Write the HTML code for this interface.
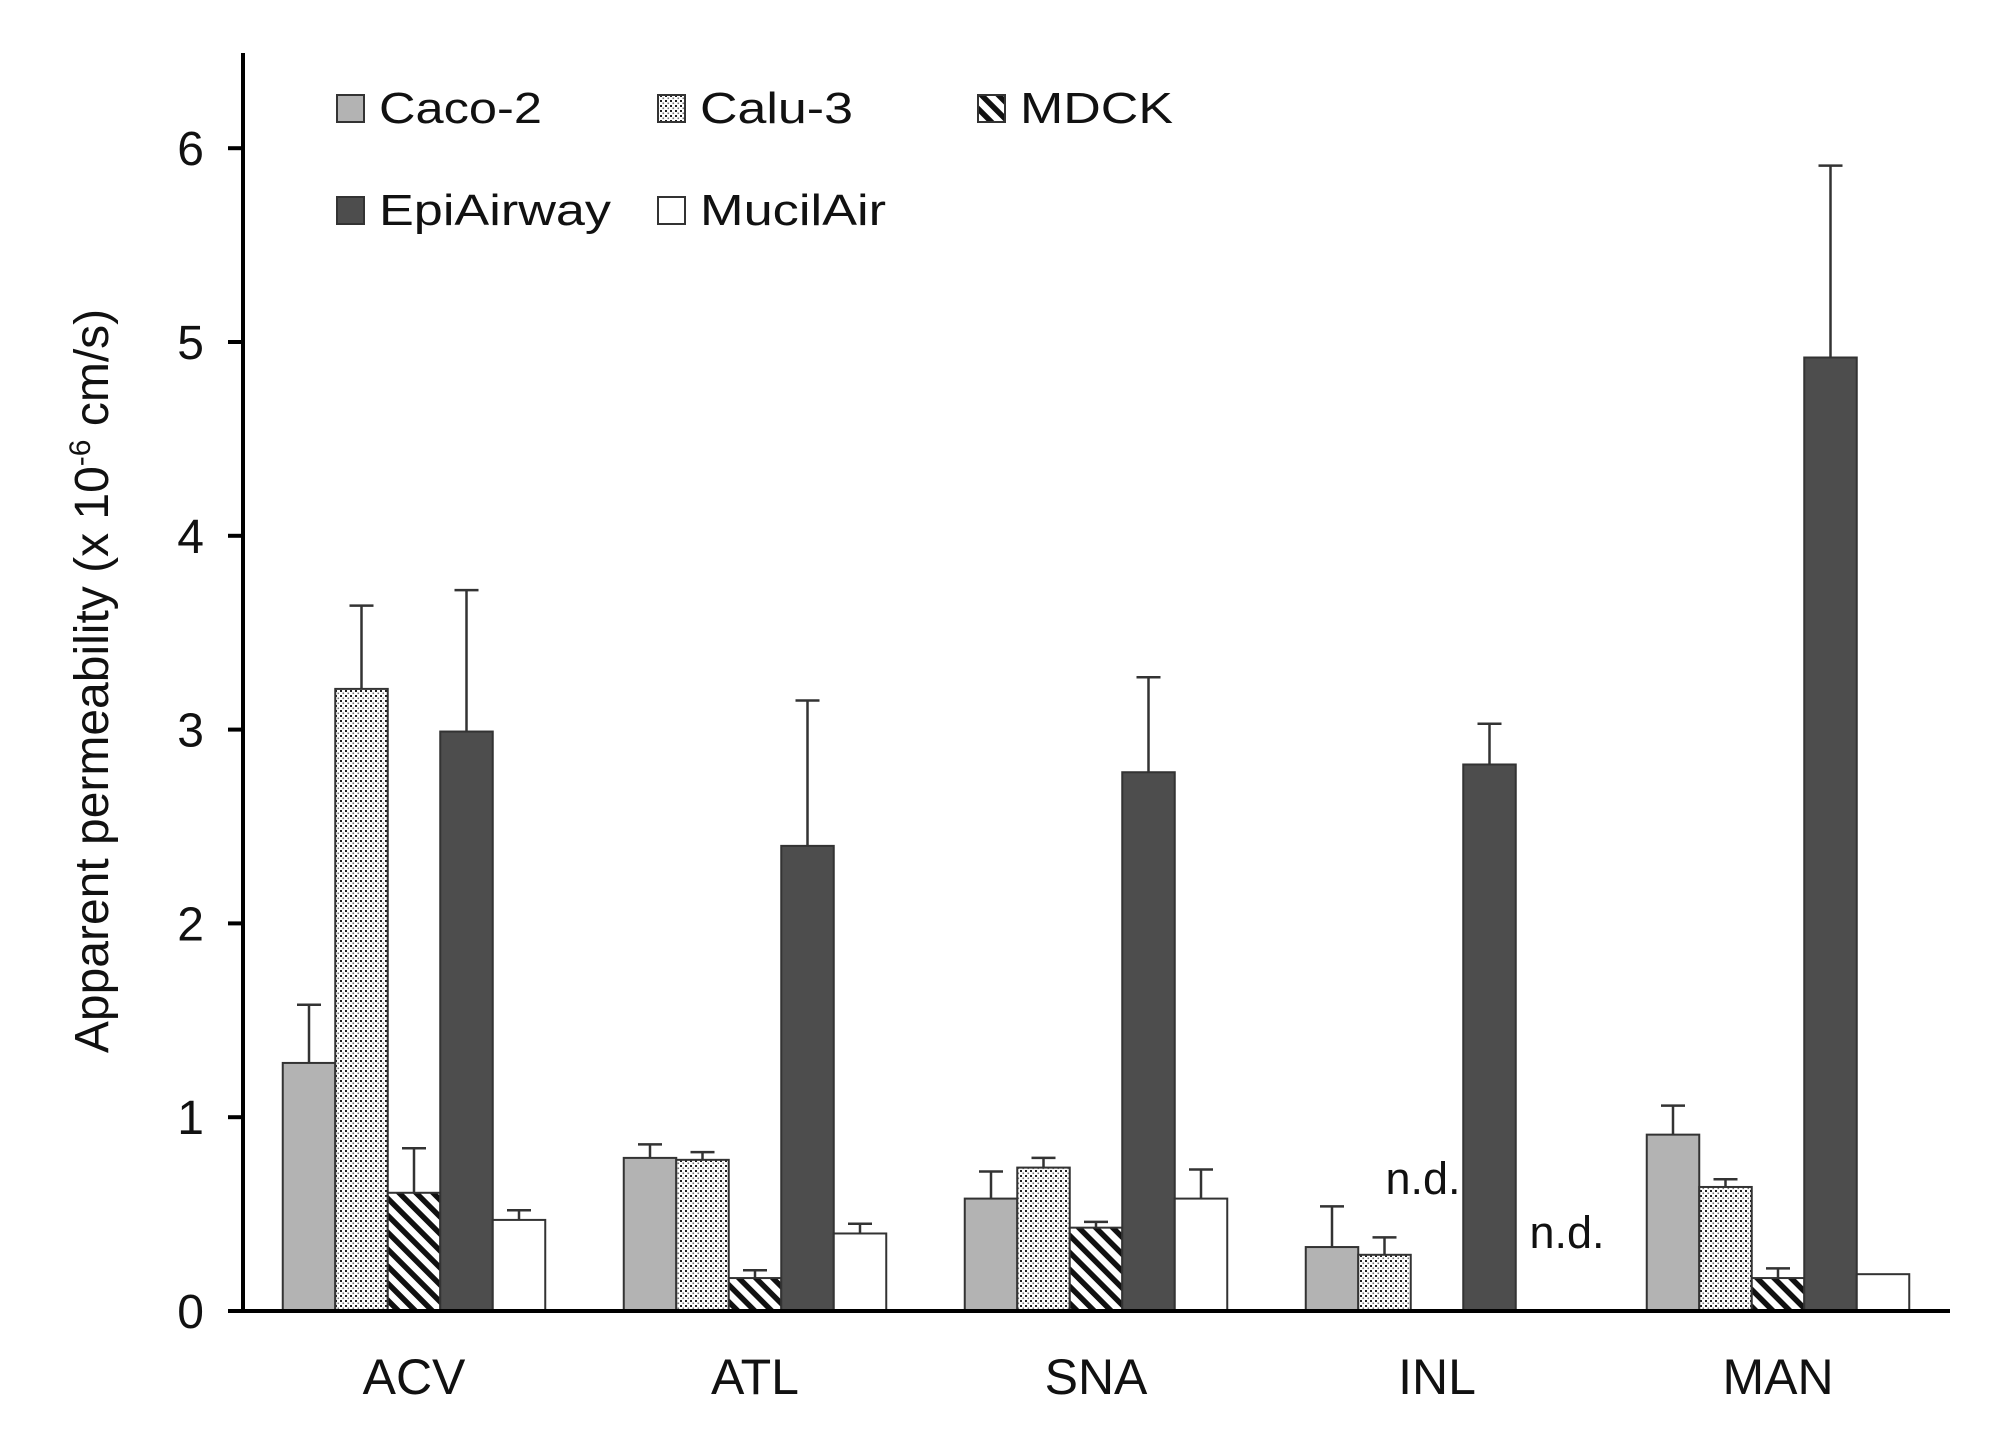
<!DOCTYPE html>
<html><head><meta charset="utf-8"><style>
html,body{margin:0;padding:0;background:#fff;}
svg{display:block;font-family:"Liberation Sans",Arial,sans-serif;}
</style></head><body>
<svg id="chart" width="1992" height="1437" viewBox="0 0 1992 1437" xmlns="http://www.w3.org/2000/svg">
<defs>
<pattern id="dots" width="5" height="5" patternUnits="userSpaceOnUse">
<rect width="5" height="5" fill="#fff"/>
<rect x="0" y="0" width="2" height="2" fill="#222"/>
<rect x="2.5" y="2.5" width="1.6" height="1.6" fill="#777"/>
</pattern>
<pattern id="stripes" width="12" height="12" patternUnits="userSpaceOnUse" patternTransform="rotate(-45)">
<rect width="12" height="12" fill="#fff"/>
<rect x="0" y="0" width="5.5" height="12" fill="#111"/>
</pattern>
</defs>
<g id="marks"></g>
<g id="axes"></g>
<g id="legend"></g>
</svg>
<script>
const categories = ["ACV","ATL","SNA","INL","MAN"];
const seriesNames = ["Caco-2","Calu-3","MDCK","EpiAirway","MucilAir"];
const caco2 = [1.28, 0.79, 0.58, 0.33, 0.91];
const caco2Err = [0.30, 0.07, 0.14, 0.21, 0.15];
const calu3 = [3.21, 0.78, 0.74, 0.29, 0.64];
const calu3Err = [0.43, 0.04, 0.05, 0.09, 0.04];
const mdck = [0.61, 0.17, 0.43, null, 0.17];
const mdckErr = [0.23, 0.04, 0.03, null, 0.05];
const epi = [2.99, 2.40, 2.78, 2.82, 4.92];
const epiErr = [0.73, 0.75, 0.49, 0.21, 0.99];
const mucil = [0.47, 0.40, 0.58, null, 0.19];
const mucilErr = [0.05, 0.05, 0.15, null, 0];
const yTicks = [0,1,2,3,4,5,6];

const NS = "http://www.w3.org/2000/svg";
const X0 = 243, Y0 = 1311, UNIT = 193.8, GROUP = 341, FIRST = 414, BW = 52.5;
const yScale = v => Y0 - v * UNIT;
const xCenter = i => FIRST + i * GROUP;
const fills = ["#b3b3b3","url(#dots)","url(#stripes)","#4d4d4d","#fff"];
const vals = [caco2, calu3, mdck, epi, mucil];
const errs = [caco2Err, calu3Err, mdckErr, epiErr, mucilErr];
function mk(tag, attrs, parent){const e=document.createElementNS(NS,tag);for(const k in attrs)e.setAttribute(k,attrs[k]);parent.appendChild(e);return e;}
const marks = document.getElementById("marks");
const axes = document.getElementById("axes");
const legend = document.getElementById("legend");

categories.forEach((c, i) => {
  vals.forEach((arr, s) => {
    const v = arr[i];
    if (v === null) return;
    const x = xCenter(i) - 2.5*BW + s*BW;
    const r = mk("rect", {x:x, y:yScale(v), width:BW, height:Y0 - yScale(v), fill:fills[s], stroke:"#333", "stroke-width":2}, marks);
    
    
    const e = errs[s][i];
    if (e) {
      const cx = x + BW/2;
      const l = mk("path", {d:`M${cx},${yScale(v)}V${yScale(v+e)}M${cx-12},${yScale(v+e)}H${cx+12}`, stroke:"#333", "stroke-width":2.5, fill:"none"}, marks);
      
      
    }
  });
  const t = mk("text", {x:xCenter(i), y:1394, "font-size":50, "text-anchor":"middle", fill:"#111"}, axes);
  t.textContent = c;
  
  
});

// n.d. labels
const nd1 = mk("text", {x:1423, y:1194, "font-size":45, "text-anchor":"middle", fill:"#111"}, marks);
nd1.textContent = "n.d.";


const nd2 = mk("text", {x:1567, y:1248, "font-size":45, "text-anchor":"middle", fill:"#111"}, marks);
nd2.textContent = "n.d.";



// axes
const ya = mk("line", {x1:X0, y1:53, x2:X0, y2:Y0+2, stroke:"#000", "stroke-width":4}, axes);


const xa = mk("line", {x1:228, y1:Y0, x2:1950, y2:Y0, stroke:"#000", "stroke-width":4}, axes);


yTicks.forEach(v => {
  const tk = mk("line", {x1:228, y1:yScale(v), x2:X0, y2:yScale(v), stroke:"#000", "stroke-width":4}, axes);
  
  
  const tl = mk("text", {x:204, y:yScale(v)+17, "font-size":48, "text-anchor":"end", fill:"#111"}, axes);
  tl.textContent = v;
  
  
});
const yt = mk("text", {transform:"translate(108,681) rotate(-90)", "font-size":48, "text-anchor":"middle", fill:"#111"}, axes);
yt.innerHTML = 'Apparent permeability (x 10<tspan dy="-18" font-size="30">-6</tspan><tspan dy="18"> cm/s)</tspan>';



// legend
const legPos = [[337,95],[658,95],[978,95],[337,197],[658,197]];
const legWidths = [163, 153, 153, 232, 186];
seriesNames.forEach((n, s) => {
  const [lx, ly] = legPos[s];
  const g = mk("g", {}, legend);
  
  
  mk("rect", {x:lx, y:ly, width:27, height:27, fill:fills[s], stroke:"#333", "stroke-width":2}, g);
  const t = mk("text", {x:lx+42, y:ly+28, "font-size":44, fill:"#111", textLength:legWidths[s], lengthAdjust:"spacingAndGlyphs"}, g);
  t.textContent = n;
});
</script>
</body></html>
